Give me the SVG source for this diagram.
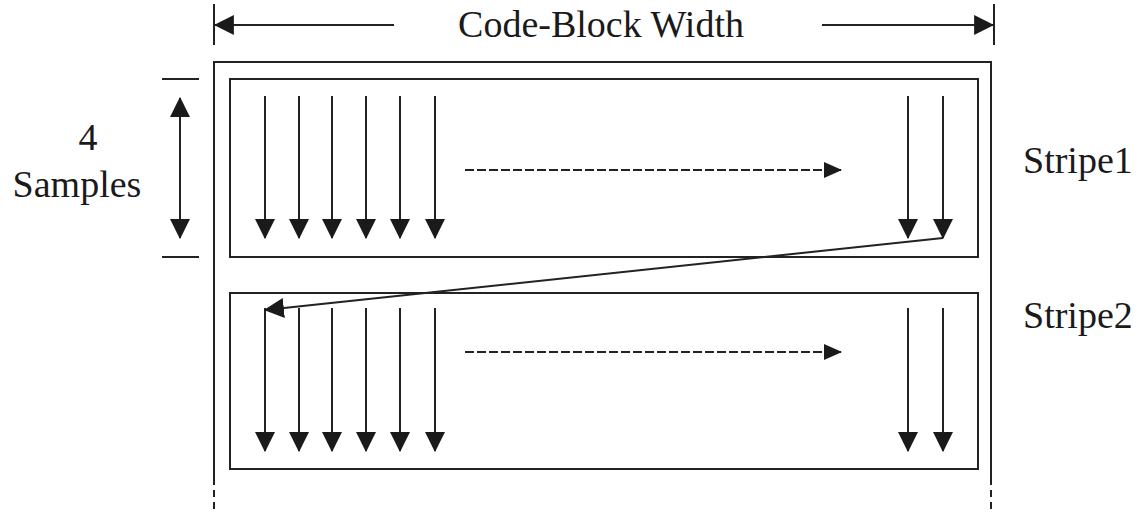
<svg xmlns="http://www.w3.org/2000/svg" width="1143" height="512" viewBox="0 0 1143 512">
  <style>
    .ln { stroke: #222; stroke-width: 2; fill: none; }
    .dash { stroke: #222; stroke-width: 2; fill: none; stroke-dasharray: 9 3; }
    .edge { stroke: #222; stroke-width: 2; fill: none; stroke-dasharray: 7 5; }
    .lbl { font-family: "Liberation Serif", "Times New Roman", serif; font-size: 38px; fill: #1a1a1a; }
  </style>
  <defs>
    <marker id="ah" markerUnits="userSpaceOnUse" markerWidth="20" markerHeight="20" viewBox="0 0 18 18" refX="17" refY="9" orient="auto-start-reverse">
      <path d="M0,0 L18,9 L0,18 Z" fill="#1a1a1a"/>
    </marker>
    <marker id="ahs" markerUnits="userSpaceOnUse" markerWidth="18" markerHeight="16" viewBox="0 0 18 16" refX="17" refY="8" orient="auto-start-reverse">
      <path d="M0,0 L18,8 L0,16 Z" fill="#1a1a1a"/>
    </marker>
  </defs>

  <rect width="1143" height="512" fill="#fff"/>

  <!-- width dimension -->
  <g id="width-dimension">
    <line class="ln" x1="214" y1="4" x2="214" y2="45"/>
    <line class="ln" x1="994" y1="4" x2="994" y2="45"/>
    <line class="ln" x1="394" y1="25" x2="215" y2="25" marker-end="url(#ah)"/>
    <line class="ln" x1="822" y1="25" x2="993" y2="25" marker-end="url(#ah)"/>
    <text class="lbl" x="601" y="37" text-anchor="middle">Code-Block Width</text>
  </g>

  <!-- height dimension -->
  <g id="height-dimension">
    <line class="ln" x1="162" y1="79" x2="199" y2="79"/>
    <line class="ln" x1="162" y1="257" x2="199" y2="257"/>
    <line class="ln" x1="180" y1="168" x2="180" y2="98" marker-end="url(#ah)"/>
    <line class="ln" x1="180" y1="168" x2="180" y2="238" marker-end="url(#ah)"/>
    <text class="lbl" x="88" y="150" text-anchor="middle">4</text>
    <text class="lbl" x="77" y="197" text-anchor="middle">Samples</text>
  </g>

  <!-- code-block outline -->
  <g id="code-block">
    <polyline class="ln" points="214,478 214,62 991,62 991,478"/>
    <line class="edge" x1="214" y1="478" x2="214" y2="512"/>
    <line class="edge" x1="991" y1="478" x2="991" y2="512"/>
  </g>

  <!-- stripe 1 -->
  <g id="stripe1">
    <rect class="ln" x="230" y="79" width="748" height="178"/>
    <text class="lbl" x="1023" y="173">Stripe1</text>
  </g>

  <!-- stripe 2 -->
  <g id="stripe2">
    <rect class="ln" x="230" y="293" width="748" height="176"/>
    <text class="lbl" x="1023" y="328">Stripe2</text>
  </g>

  <!-- scan order -->
  <g id="connectors">
    <g marker-end="url(#ah)">
      <line class="ln" x1="265" y1="96" x2="265" y2="238"/>
      <line class="ln" x1="299" y1="96" x2="299" y2="238"/>
      <line class="ln" x1="332" y1="96" x2="332" y2="238"/>
      <line class="ln" x1="366" y1="96" x2="366" y2="238"/>
      <line class="ln" x1="400" y1="96" x2="400" y2="238"/>
      <line class="ln" x1="435" y1="96" x2="435" y2="238"/>
      <line class="ln" x1="908" y1="96" x2="908" y2="238"/>
      <line class="ln" x1="943" y1="96" x2="943" y2="238"/>

      <line class="ln" x1="265" y1="308" x2="265" y2="451"/>
      <line class="ln" x1="299" y1="308" x2="299" y2="451"/>
      <line class="ln" x1="332" y1="308" x2="332" y2="451"/>
      <line class="ln" x1="366" y1="308" x2="366" y2="451"/>
      <line class="ln" x1="400" y1="308" x2="400" y2="451"/>
      <line class="ln" x1="435" y1="308" x2="435" y2="451"/>
      <line class="ln" x1="908" y1="308" x2="908" y2="451"/>
      <line class="ln" x1="943" y1="308" x2="943" y2="451"/>
    </g>
    <line class="dash" x1="465" y1="170" x2="841" y2="170" marker-end="url(#ahs)"/>
    <line class="dash" x1="465" y1="352" x2="841" y2="352" marker-end="url(#ahs)"/>
    <line class="ln" x1="943" y1="238" x2="265" y2="310" marker-end="url(#ah)"/>
  </g>
</svg>
